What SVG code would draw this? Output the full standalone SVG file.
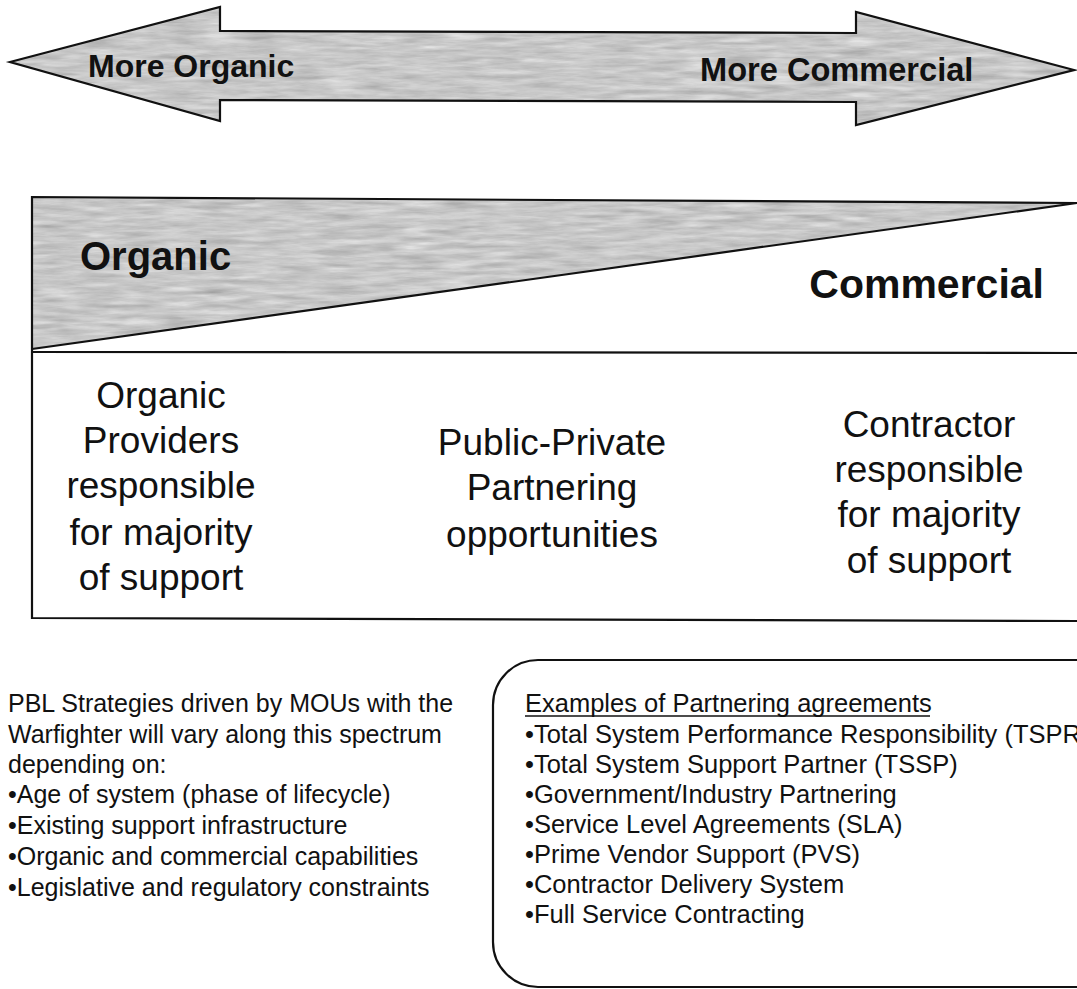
<svg xmlns="http://www.w3.org/2000/svg" width="1077" height="989" viewBox="0 0 1077 989">
<style>
  .ln{fill:none;stroke:#111;stroke-width:2.2;stroke-linejoin:miter}
  .b{font-family:"Liberation Sans",Arial,sans-serif;font-weight:bold;fill:#111}
  .r{font-family:"Liberation Sans",Arial,sans-serif;fill:#111}
  .mid{font-size:37px;text-anchor:middle}
  .sm{font-size:25px}
  .ex{font-size:25.5px}
</style>
<defs>
  <filter id="tex" x="0" y="0" width="100%" height="100%" color-interpolation-filters="sRGB">
    <feTurbulence type="fractalNoise" baseFrequency="0.025 0.2" numOctaves="4" seed="7" result="n"/>
    <feColorMatrix in="n" type="matrix" values="0.33 0.33 0.33 0 0  0.33 0.33 0.33 0 0  0.33 0.33 0.33 0 0  0 0 0 0 1" result="g"/>
    <feComponentTransfer in="g" result="g2">
      <feFuncR type="linear" slope="0.45" intercept="0.56"/>
      <feFuncG type="linear" slope="0.45" intercept="0.56"/>
      <feFuncB type="linear" slope="0.45" intercept="0.56"/>
    </feComponentTransfer>
    <feComposite in="g2" in2="SourceGraphic" operator="in"/>
  </filter>
</defs>
<rect width="1077" height="989" fill="#fff"/>

<g id="spectrum-arrow">
  <polygon points="10,62 220,7 220,31 856,33 856,12 1074,70 856,125 856,102 220,100 220,121" fill="#c8c8c8" filter="url(#tex)"/>
  <polygon class="ln" points="10,62 220,7 220,31 856,33 856,12 1074,70 856,125 856,102 220,100 220,121"/>
  <text class="b" x="88" y="77" font-size="32">More Organic</text>
  <text class="b" x="700" y="81" font-size="32.6">More Commercial</text>
</g>

<g id="spectrum-box">
  <polygon points="32,197 1077,203 32,349" fill="#c8c8c8" filter="url(#tex)"/>
  <polyline class="ln" points="1077,203 32,197 32,618 1077,621"/>
  <line class="ln" x1="32" y1="349" x2="1077" y2="203"/>
  <line class="ln" x1="32" y1="352" x2="1077" y2="353"/>
  <text class="b" x="80" y="270" font-size="40">Organic</text>
  <text class="b" x="1044" y="298" font-size="41" text-anchor="end">Commercial</text>
</g>

<g id="col-organic">
  <text class="r mid" x="161" y="408">Organic</text>
  <text class="r mid" x="161" y="453">Providers</text>
  <text class="r mid" x="161" y="498">responsible</text>
  <text class="r mid" x="161" y="545">for majority</text>
  <text class="r mid" x="161" y="590">of support</text>
</g>

<g id="col-partnering">
  <text class="r mid" x="552" y="455">Public-Private</text>
  <text class="r mid" x="552" y="500">Partnering</text>
  <text class="r mid" x="552" y="547">opportunities</text>
</g>

<g id="col-commercial">
  <text class="r mid" x="929" y="437">Contractor</text>
  <text class="r mid" x="929" y="482">responsible</text>
  <text class="r mid" x="929" y="527">for majority</text>
  <text class="r mid" x="929" y="573">of support</text>
</g>

<g id="pbl-strategies">
  <text class="r sm" x="8" y="712">PBL Strategies driven by MOUs with the</text>
  <text class="r sm" x="8" y="743">Warfighter will vary along this spectrum</text>
  <text class="r sm" x="8" y="773">depending on:</text>
  <text class="r sm" x="8" y="803">•Age of system (phase of lifecycle)</text>
  <text class="r sm" x="8" y="834">•Existing support infrastructure</text>
  <text class="r sm" x="8" y="865">•Organic and commercial capabilities</text>
  <text class="r sm" x="8" y="896">•Legislative and regulatory constraints</text>
</g>

<g id="partnering-examples">
  <rect class="ln" x="493" y="660" width="640" height="327" rx="45" ry="45"/>
  <text class="r ex" x="525" y="712">Examples of Partnering agreements</text>
  <line x1="525" y1="716" x2="930" y2="716" stroke="#111" stroke-width="1.6"/>
  <text class="r ex" x="525" y="743">•Total System Performance Responsibility (TSPR)</text>
  <text class="r ex" x="525" y="773">•Total System Support Partner (TSSP)</text>
  <text class="r ex" x="525" y="803">•Government/Industry Partnering</text>
  <text class="r ex" x="525" y="833">•Service Level Agreements (SLA)</text>
  <text class="r ex" x="525" y="863">•Prime Vendor Support (PVS)</text>
  <text class="r ex" x="525" y="893">•Contractor Delivery System</text>
  <text class="r ex" x="525" y="923">•Full Service Contracting</text>
</g>
</svg>
